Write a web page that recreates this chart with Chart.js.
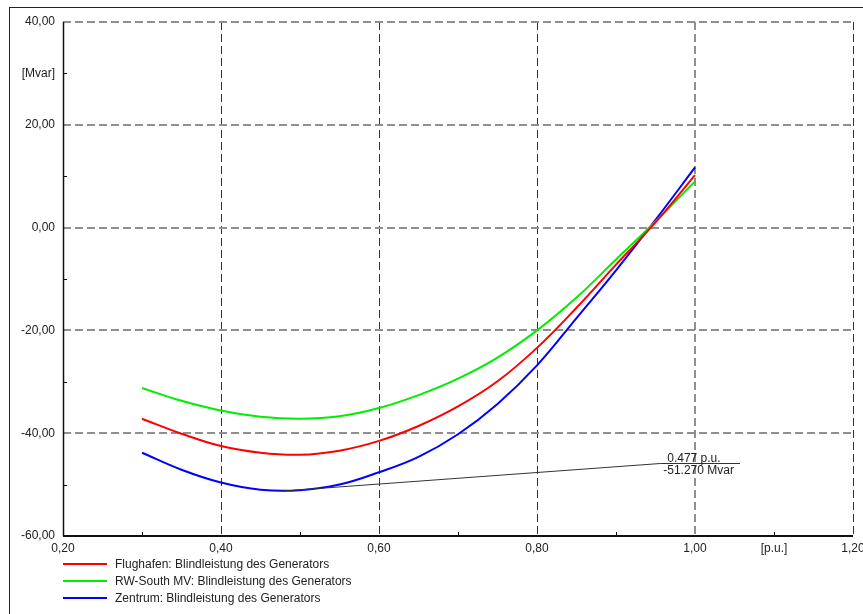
<!DOCTYPE html>
<html>
<head>
<meta charset="utf-8">
<script src="https://cdn.jsdelivr.net/npm/chart.js@4"></script>
<style>
  html, body { margin: 0; padding: 0; background: #fff; overflow: hidden; }
  #wrap { position: relative; width: 863px; height: 614px; overflow: hidden; }
  #frame { position: absolute; left: 9px; top: 7px; width: 900px; height: 700px;
           border-left: 1px solid #222; border-top: 1px solid #222; }
  #plot { position: absolute; left: 0; top: 0; }
  #legend { position: absolute; left: 63px; top: 555px;
            font: 12px "Liberation Sans", Arial, sans-serif; color: #222; }
  .item { height: 17px; display: flex; align-items: center; }
  .swatch { width: 44px; height: 2px; margin-right: 8px; }
</style>
</head>
<body>
<div id="wrap">
  <div id="frame"></div>
  <canvas id="plot" width="863" height="614"></canvas>
  <div id="legend"></div>
</div>
<script>
// Voltage [p.u.] at which each generator's reactive power was evaluated
const voltage = [0.30, 0.35, 0.40, 0.45, 0.50, 0.55, 0.60, 0.65, 0.70, 0.75, 0.80, 0.85, 0.90, 0.95, 1.00];

// Reactive power [Mvar]
const flughafen = [-37.2, -40.1, -42.5, -43.8, -44.2, -43.4, -41.5, -38.6, -34.8, -29.9, -23.4, -15.6, -7.2, 1.0, 10.2];
const rwSouth   = [-31.2, -33.7, -35.6, -36.8, -37.2, -36.7, -35.1, -32.6, -29.4, -25.3, -20.0, -13.6, -6.2, 1.2, 9.0];
const zentrum   = [-43.8, -47.1, -49.6, -51.0, -51.1, -50.0, -47.6, -44.6, -40.2, -34.3, -26.8, -17.6, -8.3, 1.5, 11.7];

const seriesLabels = [
  'Flughafen: Blindleistung des Generators',
  'RW-South MV: Blindleistung des Generators',
  'Zentrum: Blindleistung des Generators'
];
const seriesColors = ['#ff0000', '#00ee00', '#0000ff'];

// Axis ranges and unit captions shown among the tick labels
const xMin = 0.2, xMax = 1.2, xStep = 0.1;
const yMin = -60, yMax = 40, yStep = 10;
const xUnit = '[p.u.]', xUnitAt = 1.1;
const yUnit = '[Mvar]', yUnitAt = 30;

// Cursor readout on the Zentrum curve
const cursorX = 0.477, cursorY = -51.27;
const readoutX = 0.956, readoutY = -45.8, readoutEndX = 1.057;

const FONT = '"Liberation Sans", Arial, sans-serif';
Chart.defaults.font.family = FONT;
Chart.defaults.font.size = 12;
Chart.defaults.color = '#222';

const fmt = v => v.toFixed(2).replace('.', ',');
const toPoints = ys => voltage.map((x, i) => ({ x, y: ys[i] }));

// Axis lines, small minor tick marks, and the cursor readout
const decorations = {
  id: 'decorations',
  beforeDatasetsDraw(chart) {
    const { ctx, chartArea: a, scales: { x, y } } = chart;
    ctx.save();
    ctx.strokeStyle = '#111';
    // minor ticks pointing into the plot
    ctx.lineWidth = 1;
    ctx.beginPath();
    for (let k = 1; k < Math.round((xMax - xMin) / xStep); k += 2) {
      const px = Math.round(x.getPixelForValue(xMin + k * xStep)) + 0.5;
      ctx.moveTo(px, a.bottom); ctx.lineTo(px, a.bottom - 4);
    }
    for (let v = yMin + yStep; v < yMax; v += 2 * yStep) {
      const py = Math.round(y.getPixelForValue(v)) + 0.5;
      ctx.moveTo(a.left, py); ctx.lineTo(a.left + 4, py);
    }
    ctx.stroke();
    // axis lines
    ctx.beginPath();
    ctx.lineWidth = 1.5;
    ctx.moveTo(a.left + 0.5, a.top); ctx.lineTo(a.left + 0.5, a.bottom);
    ctx.stroke();
    ctx.beginPath();
    ctx.lineWidth = 2;
    ctx.moveTo(a.left, a.bottom); ctx.lineTo(a.right, a.bottom);
    ctx.stroke();
    ctx.restore();
  },
  afterDatasetsDraw(chart) {
    const { ctx, scales: { x, y } } = chart;
    const px = x.getPixelForValue(cursorX), py = y.getPixelForValue(cursorY);
    const cx = x.getPixelForValue(readoutX), cy = Math.round(y.getPixelForValue(readoutY)) + 0.5;
    const ex = x.getPixelForValue(readoutEndX);
    ctx.save();
    ctx.strokeStyle = '#333';
    ctx.lineWidth = 1;
    ctx.beginPath();
    ctx.moveTo(px, py); ctx.lineTo(cx, cy); ctx.lineTo(ex, cy);
    ctx.stroke();
    ctx.fillStyle = '#222';
    ctx.font = '12px ' + FONT;
    ctx.textAlign = 'left';
    ctx.textBaseline = 'alphabetic';
    ctx.fillText(cursorX.toFixed(3) + ' p.u.', cx + 7, cy - 2);
    ctx.textBaseline = 'top';
    ctx.fillText(cursorY.toFixed(3) + ' Mvar', cx + 3, cy + 1);
    ctx.restore();
  }
};

const isMajorX = v => Math.round(v * 10) % 2 === 0;
const isMajorY = v => Math.round(v) % 20 === 0;

new Chart(document.getElementById('plot'), {
  type: 'line',
  data: {
    datasets: [flughafen, rwSouth, zentrum].map((ys, i) => ({
      label: seriesLabels[i],
      data: toPoints(ys),
      borderColor: seriesColors[i],
      backgroundColor: seriesColors[i],
      borderWidth: 2,
      pointRadius: 0,
      tension: 0.4,
      fill: false
    }))
  },
  options: {
    responsive: false,
    animation: false,
    events: [],
    layout: { padding: { left: 0, top: 22, right: 10, bottom: 58 } },
    plugins: { legend: { display: false }, tooltip: { enabled: false } },
    scales: {
      x: {
        type: 'linear', min: xMin, max: xMax,
        border: { display: false, dash: [8, 4] },
        grid: {
          drawTicks: false,
          color: c => {
            const v = c.tick.value;
            if (!isMajorX(v) || Math.abs(v - xMin) < 1e-6) return 'rgba(0,0,0,0)';
            return Math.abs(v - 1.0) < 1e-6 ? '#8f8f8f' : '#333';
          },
          lineWidth: c => Math.abs(c.tick.value - 1.0) < 1e-6 ? 2 : 1
        },
        ticks: {
          stepSize: xStep, autoSkip: false, maxRotation: 0, padding: 5,
          callback: v => Math.abs(v - xUnitAt) < 1e-6 ? xUnit : (isMajorX(v) ? fmt(v) : '')
        },
        afterFit: s => { s.height = 20; s.paddingLeft = 0; s.paddingRight = 0; }
      },
      y: {
        type: 'linear', min: yMin, max: yMax,
        border: { display: false, dash: [8, 4] },
        grid: {
          drawTicks: false,
          color: c => isMajorY(c.tick.value) && c.tick.value !== yMin ? '#8f8f8f' : 'rgba(0,0,0,0)',
          lineWidth: 2
        },
        ticks: {
          stepSize: yStep, autoSkip: false, padding: 8,
          callback: v => v === yUnitAt ? yUnit : (isMajorY(v) ? fmt(v) : '')
        },
        afterFit: s => { s.width = 63; s.paddingTop = 0; s.paddingBottom = 0; }
      }
    }
  },
  plugins: [decorations]
});

// Legend rows below the plot
const legend = document.getElementById('legend');
seriesLabels.forEach((label, i) => {
  const row = document.createElement('div');
  row.className = 'item';
  const sw = document.createElement('span');
  sw.className = 'swatch';
  sw.style.background = seriesColors[i];
  const tx = document.createElement('span');
  tx.textContent = label;
  row.appendChild(sw); row.appendChild(tx);
  legend.appendChild(row);
});
</script>
</body>
</html>
